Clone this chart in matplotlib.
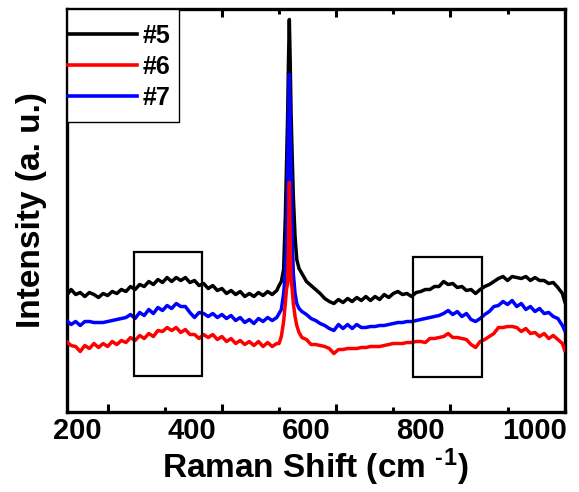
import matplotlib
matplotlib.use("Agg")
import matplotlib.pyplot as plt
from matplotlib.patches import Rectangle
from matplotlib.transforms import ScaledTranslation

plt.rcParams['font.family'] = ['Liberation Sans', 'DejaVu Sans']
plt.rcParams['font.weight'] = 'bold'
plt.rcParams['mathtext.fontset'] = 'custom'
plt.rcParams['mathtext.rm'] = 'Liberation Sans:bold'
plt.rcParams['mathtext.default'] = 'rm'

# Raman shift (cm-1) sampled along the spectra
shift = [128, 136, 144, 152, 160, 168, 176, 184, 192, 200,
         208, 216, 224, 232, 240, 248, 256, 264, 272, 280,
         288, 296, 304, 312, 320, 328, 336, 344, 352, 360,
         368, 376, 384, 392, 400, 408, 416, 424, 432, 440,
         448, 456, 464, 472, 480, 488, 496,
         500, 504, 508, 511, 513, 515, 516.5, 518, 519.5, 521,
         523, 525, 528, 531, 535, 540,
         548, 556, 564, 572, 580, 588, 596, 604, 612, 620,
         628, 636, 644, 652, 660, 668, 676, 684, 692, 700,
         708, 716, 724, 732, 740, 748, 756, 764, 772, 780,
         788, 796, 804, 812, 820, 828, 836, 844, 852, 860,
         868, 876, 884, 892, 900, 908, 916, 924, 932, 940,
         948, 956, 964, 972, 980, 988, 996, 1000]

# intensities (a. u.), offset per sample as in the figure
s5 = [116, 122, 117, 119, 115, 119, 117, 114, 118, 116,
      120, 118, 122, 120, 125, 122, 127, 125, 130, 127,
      132, 129, 134, 130, 134, 131, 134, 129, 131, 126,
      128, 123, 126, 121, 123, 118, 121, 117, 120, 115,
      118, 115, 119, 116, 120, 117, 121,
      126, 130, 142, 195, 245, 295, 350, 392, 350, 300,
      255, 215, 175, 152, 143, 138,
      130, 126, 122, 118, 113, 110, 108, 112, 109, 113,
      110, 114, 111, 115, 111, 115, 112, 117, 114, 118,
      120, 117, 118, 115, 119, 120, 122, 122, 125, 125,
      130, 127, 128, 124, 125, 121, 122, 118, 122, 125,
      127, 130, 133, 135, 131, 135, 134, 133, 135, 131,
      134, 131, 131, 128, 129, 124, 118, 110]

s6 = [70, 66, 65, 60, 66, 63, 68, 64, 68, 65,
      70, 67, 71, 69, 74, 71, 76, 73, 78, 75,
      81, 80, 84, 81, 84, 79, 82, 77, 77, 73,
      77, 74, 77, 72, 75, 70, 73, 68, 71, 67,
      70, 66, 70, 65, 69, 65, 68,
      68, 75, 90, 108, 122, 128, 165, 229, 170, 132,
      122, 108, 95, 86, 79, 74,
      72, 67, 67, 66, 65, 63, 58, 62, 62, 63,
      63, 63, 64, 64, 65, 65, 65, 66, 67, 68,
      68, 68, 69, 69, 70, 70, 69, 73, 73, 74,
      75, 78, 74, 74, 73, 72, 67, 64, 70, 72,
      75, 78, 84, 84, 85, 85, 84, 80, 83, 78,
      79, 75, 78, 73, 76, 72, 68, 61]

s7 = [91, 87, 90, 86, 90, 90, 89, 89, 89, 90,
      91, 92, 93, 94, 97, 93, 99, 96, 102, 98,
      104, 101, 106, 103, 108, 105, 105, 99, 94, 99,
      98, 95, 98, 94, 97, 93, 96, 91, 94, 89,
      92, 88, 93, 90, 94, 91, 94,
      98, 102, 118, 138, 165, 232, 290, 337, 290, 240,
      175, 138, 118, 108, 103, 100,
      97, 93, 91, 88, 86, 83, 81, 87, 83, 87,
      83, 87, 84, 84, 85, 85, 86, 86, 87, 88,
      89, 89, 90, 90, 91, 92, 93, 94, 95, 96,
      98, 101, 97, 100, 95, 98, 92, 90, 93, 97,
      100, 105, 106, 110, 107, 111, 105, 108, 102, 105,
      100, 103, 98, 99, 95, 93, 86, 81]

labels = ['#5', '#6', '#7']
colors = ['black', 'red', 'blue']

# highlighted regions (x0, x1, y0, y1)
boxes = [(246, 366, 36, 160), (734, 855, 35, 155)]

fig = plt.figure(figsize=(5.79, 4.92), dpi=100)
ax = fig.add_axes([0.1149, 0.1636, 0.8604, 0.8191])

ax.plot(shift, s5, color=colors[0], lw=2.5, label=labels[0], zorder=2)
ax.plot(shift, s6, color=colors[1], lw=2.5, label=labels[1], zorder=4)
ax.plot(shift, s7, color=colors[2], lw=2.5, label=labels[2], zorder=3)

for x0, x1, y0, y1 in boxes:
    ax.add_patch(Rectangle((x0, y0), x1 - x0, y1 - y0, fill=False,
                           edgecolor='black', lw=1.6, zorder=5))

ax.set_xlim(128, 1000)
ax.set_ylim(0, 403)
ax.set_xticks([200, 400, 600, 800, 1000])
ax.set_xticks([300, 500, 700, 900], minor=True)
ax.set_yticks([])
ax.tick_params(axis='x', which='both', direction='in', top=True, width=2.2,
               labelsize=21, pad=4)
ax.tick_params(axis='x', which='major', length=6)
ax.tick_params(axis='x', which='minor', length=3.5)
for lab in ax.get_xticklabels():
    lab.set_fontweight('bold')
    lab.set_transform(lab.get_transform() +
                      ScaledTranslation(-0.30, 0, fig.dpi_scale_trans))
for sp in ax.spines.values():
    sp.set_linewidth(2.4)

ax.set_xlabel('Raman Shift (cm $^{\u2010}$$^{1}$)', fontsize=24, fontweight='bold',
              labelpad=1)
ax.set_ylabel('Intensity (a. u.)', fontsize=24, fontweight='bold')
ax.yaxis.set_label_coords(-0.040, 0.5)

# legend without its own frame, boxed by a tight rectangle in the corner
leg = ax.legend(loc='upper left', bbox_to_anchor=(-0.027, 1.0),
                borderaxespad=0, frameon=False,
                handlelength=2.76, handletextpad=0.24, labelspacing=0.28,
                borderpad=0.6, prop={'weight': 'bold', 'size': 18})
leg.set_zorder(6)
for line in leg.get_lines():
    line.set_linewidth(2.6)
ax.add_patch(Rectangle((0, 0.7184), 0.226, 0.2816, transform=ax.transAxes,
                       facecolor='white', edgecolor='black', lw=1.0, zorder=5.5))

fig.savefig('out.png', dpi=100)
